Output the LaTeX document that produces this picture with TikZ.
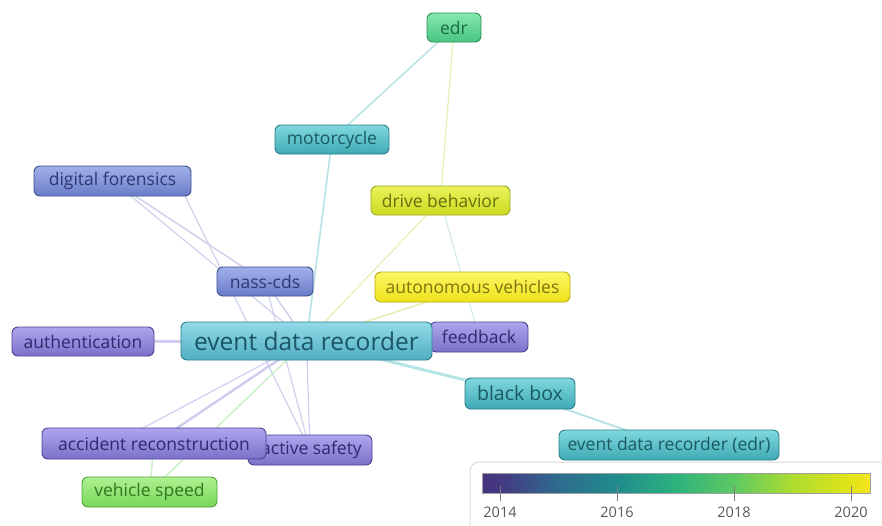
\documentclass[tikz,border=0pt]{standalone}
\usepackage{fontspec}
\setmainfont{Open Sans}
\usetikzlibrary{calc}

% keyword colour families: top, bottom, border, text
\definecolor{tealA}{HTML}{92DAE8}\definecolor{tealB}{HTML}{4FAFC2}\definecolor{tealD}{HTML}{2E7F90}\definecolor{tealT}{HTML}{1C5565}
\definecolor{cyanA}{HTML}{7FD8DE}\definecolor{cyanB}{HTML}{3FAAB4}\definecolor{cyanD}{HTML}{2A7F88}\definecolor{cyanT}{HTML}{1A5A62}
\definecolor{grnA}{HTML}{86E8AE}\definecolor{grnB}{HTML}{48C583}\definecolor{grnD}{HTML}{2C8E5A}\definecolor{grnT}{HTML}{1C6A43}
\definecolor{ylgA}{HTML}{EAF25A}\definecolor{ylgB}{HTML}{CCDB22}\definecolor{ylgD}{HTML}{9AA81A}\definecolor{ylgT}{HTML}{66700E}
\definecolor{yelA}{HTML}{FCF664}\definecolor{yelB}{HTML}{EFE21C}\definecolor{yelD}{HTML}{B9AC12}\definecolor{yelT}{HTML}{7E7410}
\definecolor{lgrA}{HTML}{AEF290}\definecolor{lgrB}{HTML}{78D65A}\definecolor{lgrD}{HTML}{4E9E38}\definecolor{lgrT}{HTML}{2E7822}
\definecolor{bluA}{HTML}{A2B0EA}\definecolor{bluB}{HTML}{6A7CC8}\definecolor{bluD}{HTML}{3E4E90}\definecolor{bluT}{HTML}{2A3976}
\definecolor{purA}{HTML}{AEA6EE}\definecolor{purB}{HTML}{7B71C9}\definecolor{purD}{HTML}{4A4290}\definecolor{purT}{HTML}{2F296E}

% link colours
\definecolor{lkTeal}{HTML}{AEE0E4}
\definecolor{lkYel}{HTML}{E0F0B0}
\definecolor{lkGrn}{HTML}{C8EEC4}
\definecolor{lkBlu}{HTML}{CACDEC}
\definecolor{lkPur}{HTML}{CCC8EE}
\definecolor{lkMix}{HTML}{CCE6DC}

% overlay colour scale (viridis)
\pgfdeclarehorizontalshading{viridis}{100bp}{
  color(0bp)=(black!0!white);
  color(25bp)=(rgb,255:red,70;green,51;blue,126);
  color(27.3bp)=(rgb,255:red,69;green,56;blue,130);
  color(34.8bp)=(rgb,255:red,46;green,107;blue,142);
  color(42.4bp)=(rgb,255:red,33;green,140;blue,141);
  color(49.9bp)=(rgb,255:red,45;green,178;blue,125);
  color(57.5bp)=(rgb,255:red,94;green,201;blue,98);
  color(65bp)=(rgb,255:red,173;green,220;blue,48);
  color(72.6bp)=(rgb,255:red,227;green,228;blue,24);
  color(75bp)=(rgb,255:red,245;green,229;blue,31);
  color(100bp)=(rgb,255:red,245;green,229;blue,31)}

\tikzset{
  kw/.style={rounded corners=6pt, line width=0.9pt, inner sep=0pt, align=center},
  teal/.style={kw, top color=tealA, bottom color=tealB, draw=tealD, text=tealT},
  cyan/.style={kw, top color=cyanA, bottom color=cyanB, draw=cyanD, text=cyanT},
  grn/.style={kw, top color=grnA, bottom color=grnB, draw=grnD, text=grnT},
  ylg/.style={kw, top color=ylgA, bottom color=ylgB, draw=ylgD, text=ylgT},
  yel/.style={kw, top color=yelA, bottom color=yelB, draw=yelD, text=yelT},
  lgr/.style={kw, top color=lgrA, bottom color=lgrB, draw=lgrD, text=lgrT},
  blu/.style={kw, top color=bluA, bottom color=bluB, draw=bluD, text=bluT},
  pur/.style={kw, top color=purA, bottom color=purB, draw=purD, text=purT},
  fs/.style={font=\fontsize{#1}{#1}\selectfont},
  lk/.style={line width=#1, opacity=0.9},
  tick/.style={draw=gray, line width=1pt},
  yr/.style={text=black!65, font=\fontsize{14.5}{14.5}\selectfont},
}

\begin{document}
\begin{tikzpicture}[x=1pt, y=-1pt]
\useasboundingbox (0,0) rectangle (882,525);
\fill[white] (0,0) rectangle (882,525);

% node anchors (centres)
\coordinate (pEdr) at (454,27.5);
\coordinate (pMoto) at (332,139.5);
\coordinate (pDig) at (112.5,181);
\coordinate (pDrive) at (440.5,200.5);
\coordinate (pNass) at (265,281.5);
\coordinate (pAuto) at (472.5,287);
\coordinate (pAuth) at (83,341.5);
\coordinate (pEDR) at (306.5,341);
\coordinate (pFeed) at (479,337);
\coordinate (pBox) at (520,393.5);
\coordinate (pEdrE) at (669,445);
\coordinate (pAcc) at (154,443.5);
\coordinate (pAct) at (310,450);
\coordinate (pSpeed) at (149.5,492);

% links
\draw[lk=1.5pt, lkTeal] (pEdr) -- (pMoto);
\draw[lk=1.2pt, lkYel] (pEdr) -- (pDrive);
\draw[lk=1.1pt, lkMix] (pDrive) -- (pFeed);
\draw[lk=1.6pt, lkTeal] (pMoto) -- (pEDR);
\draw[lk=1.2pt, lkYel] (pDrive) -- (pEDR);
\draw[lk=1.6pt, lkYel] (pAuto) -- (pEDR);
\draw[lk=1.5pt, lkBlu] (pDig) -- (pNass);
\draw[lk=1.2pt, lkBlu] (pDig) -- (pEDR);
\draw[lk=1.2pt, lkBlu] ($(pDig)+(70,10)$) -- (pAct);
\draw[lk=1.5pt, lkBlu] (pNass) -- (pEDR);
\draw[lk=1.2pt, lkBlu] (pNass) -- (pAct);
\draw[lk=3pt, lkPur] (pAuth) -- (pEDR);
\draw[lk=3pt, lkTeal] (pEDR) -- (pBox);
\draw[lk=2pt, lkTeal] (pBox) -- (pEdrE);
\draw[lk=2.5pt, lkPur] (pEDR) -- (pAcc);
\draw[lk=1.2pt, lkPur] (pEDR) -- ($(pAcc)+(-40,0)$);
\draw[lk=1.2pt, lkPur] (pEDR) -- (pAct);
\draw[lk=1.5pt, lkGrn] (pEDR) -- (pSpeed);
\draw[lk=1.5pt, lkGrn] (pAcc) -- (pSpeed);

% keywords
\node[grn, fs=17.5, minimum width=54pt, minimum height=29pt] (edr) at (pEdr) {edr};
\node[cyan, fs=17.5, minimum width=114pt, minimum height=29pt] (moto) at (pMoto) {motorcycle};
\node[blu, fs=17.5, minimum width=157pt, minimum height=30pt] (dig) at (pDig) {digital forensics};
\node[ylg, fs=17.5, minimum width=139pt, minimum height=29pt] (drive) at (pDrive) {drive behavior};
\node[blu, fs=17.5, minimum width=96pt, minimum height=29pt] (nass) at (pNass) {nass-cds};
\node[yel, fs=17.5, minimum width=195pt, minimum height=30pt] (auto) at (pAuto) {autonomous vehicles};
\node[pur, fs=17.5, minimum width=142pt, minimum height=29pt] (auth) at (pAuth) {authentication};
\node[pur, fs=17.5, minimum width=98pt, minimum height=30pt] (feed) at (pFeed) {feedback};
\node[teal, fs=24.5, minimum width=251pt, minimum height=38pt] (EDR) at (pEDR) {event data recorder};
\node[cyan, fs=19.5, minimum width=110pt, minimum height=31pt] (box) at (pBox) {black box};
\node[cyan, fs=17.5, minimum width=220pt, minimum height=30pt] (edrE) at (pEdrE) {event data recorder (edr)};
\node[pur, fs=17.5, minimum width=124pt, minimum height=30pt] (act) at (pAct) {\hspace*{3pt}active safety};
\node[pur, fs=17.5, minimum width=224pt, minimum height=31pt] (acc) at (pAcc) {accident reconstruction};
\node[lgr, fs=17.5, minimum width=135pt, minimum height=30pt] (speed) at (pSpeed) {vehicle speed};

% colour scale legend
\begin{scope}
\clip (0,0) rectangle (882,525);
\draw[draw=black!15, fill=white, line width=1pt, rounded corners=9pt] (470,462) rectangle (900,540);
\end{scope}
\shade[shading=viridis] (482,473) rectangle (870,493);
\draw[draw=gray!75, line width=0.8pt] (482,473) rectangle (870,493);
\draw[tick] (500,486) -- (500,501);
\draw[tick] (617,486) -- (617,501);
\draw[tick] (734,486) -- (734,501);
\draw[tick] (851,486) -- (851,501);
\node[yr] (y14) at (500,512) {2014};
\node[yr] (y16) at (617,512) {2016};
\node[yr] (y18) at (734,512) {2018};
\node[yr] (y20) at (851,512) {2020};
\end{tikzpicture}
\end{document}
